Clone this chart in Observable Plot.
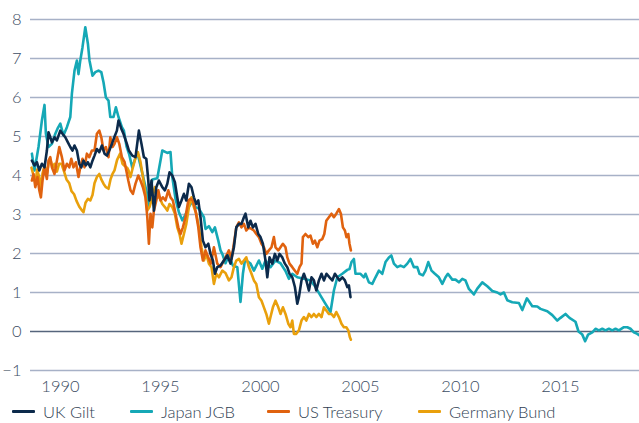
<!DOCTYPE html>
<html>
<head>
<meta charset="utf-8">
<script src="https://cdn.jsdelivr.net/npm/d3@7"></script>
<script src="https://cdn.jsdelivr.net/npm/@observablehq/plot@0.6"></script>
<style>
  html, body { margin: 0; padding: 0; background: #ffffff; }
  #wrap { width: 639px; height: 423px; position: relative; font-family: Lato, "Open Sans", sans-serif; }
  #legend { position: relative; width: 639px; height: 23px; font-size: 16.5px; font-weight: 300; color: #2f3e52; }
  .item { position: absolute; top: 0; height: 23px; display: flex; align-items: center; }
  .swatch { width: 23px; height: 3px; margin-right: 8px; border-radius: 1px; }
  #chart text { font-weight: 300; }
</style>
</head>
<body>
<div id="wrap">
  <div id="chart"></div>
  <div id="legend"></div>
</div>
<script>
// ---- Data (decimal year, yield %) ----
const seriesNames = ["UK Gilt", "Japan JGB", "US Treasury", "Germany Bund"];
const seriesColors = ["#0c2a4b", "#15a8b6", "#e0620f", "#e9a00c"];
const xTicks = [1990, 1995, 2000, 2005, 2010, 2015];
const yTicks = [-1, 0, 1, 2, 3, 4, 5, 6, 7, 8];

const ukGilt = [
  [1988.57,4.38],[1988.70,4.26],[1988.82,4.34],[1988.94,4.13],[1989.07,4.30],[1989.20,4.21],[1989.32,4.64],[1989.40,5.11],
  [1989.49,4.98],[1989.57,4.85],[1989.70,4.98],[1989.82,4.90],[1989.99,5.15],[1990.10,5.07],[1990.24,4.98],[1990.37,4.85],
  [1990.49,4.73],[1990.60,4.64],[1990.70,4.77],[1990.82,4.64],[1990.94,4.30],[1991.04,4.21],[1991.15,4.38],[1991.27,4.26],
  [1991.37,4.34],[1991.49,4.21],[1991.60,4.38],[1991.70,4.51],[1991.82,4.68],[1991.94,4.60],[1992.07,4.77],[1992.20,4.56],
  [1992.32,4.51],[1992.44,4.64],[1992.57,4.81],[1992.69,4.98],[1992.82,5.15],[1992.90,5.41],[1993.04,5.20],[1993.15,5.07],
  [1993.32,4.81],[1993.42,4.64],[1993.59,4.51],[1993.75,4.47],[1993.92,5.15],[1994.05,4.81],[1994.17,4.47],[1994.29,4.43],
  [1994.39,3.87],[1994.45,3.36],[1994.55,3.87],[1994.67,3.10],[1994.79,3.70],[1994.92,3.87],[1995.09,3.70],[1995.22,3.62],
  [1995.34,3.79],[1995.45,4.08],[1995.59,4.00],[1995.72,3.83],[1995.84,3.44],[1995.92,3.19],[1996.05,3.36],[1996.17,3.53],
  [1996.29,3.36],[1996.42,3.79],[1996.55,3.70],[1996.67,3.44],[1996.79,3.27],[1996.89,3.36],[1997.00,2.93],[1997.12,2.33],
  [1997.25,2.16],[1997.39,2.25],[1997.50,1.99],[1997.62,1.82],[1997.72,1.48],[1997.84,1.65],[1998.00,1.69],[1998.17,1.82],
  [1998.34,1.95],[1998.50,1.74],[1998.67,2.16],[1998.79,2.67],[1998.92,2.76],[1999.05,2.76],[1999.17,2.93],[1999.25,3.02],
  [1999.39,2.67],[1999.50,2.84],[1999.62,2.67],[1999.75,2.76],[1999.89,2.50],[2000.00,2.42],[2000.12,2.25],[2000.25,1.82],
  [2000.34,1.39],[2000.45,1.90],[2000.59,1.74],[2000.72,1.99],[2000.84,1.82],[2000.95,1.99],[2001.09,1.90],[2001.22,1.74],
  [2001.34,1.65],[2001.45,1.48],[2001.59,1.39],[2001.72,1.14],[2001.84,0.71],[2001.92,0.88],[2002.05,1.31],[2002.17,1.48],
  [2002.29,1.31],[2002.42,1.05],[2002.55,1.39],[2002.67,1.31],[2002.79,1.05],[2002.92,1.31],[2003.05,1.48],[2003.17,1.31],
  [2003.30,1.48],[2003.45,1.39],[2003.59,1.31],[2003.72,1.48],[2003.84,1.39],[2003.95,1.31],[2004.09,1.39],[2004.22,1.31],
  [2004.34,1.14],[2004.42,1.18],[2004.50,0.88]
];

const japanJGB = [
  [1988.57,4.56],[1988.70,4.13],[1988.90,4.73],[1989.07,5.41],[1989.20,5.81],[1989.27,5.07],[1989.40,4.73],[1989.57,4.81],
  [1989.74,5.07],[1989.85,5.20],[1989.99,5.33],[1990.15,5.03],[1990.32,5.24],[1990.49,5.50],[1990.57,6.10],[1990.70,6.69],
  [1990.82,6.95],[1990.90,6.60],[1990.99,6.95],[1991.10,7.29],[1991.24,7.80],[1991.37,7.38],[1991.45,6.95],[1991.60,6.56],
  [1991.74,6.65],[1991.90,6.69],[1992.04,6.65],[1992.15,6.39],[1992.27,6.00],[1992.40,5.92],[1992.49,5.50],[1992.65,5.50],
  [1992.77,5.75],[1992.90,5.50],[1993.07,5.24],[1993.17,5.15],[1993.30,4.75],[1993.43,4.55],[1993.59,4.20],[1993.84,4.60],
  [1994.09,4.06],[1994.34,3.50],[1994.42,3.20],[1994.59,3.90],[1994.84,3.93],[1995.09,4.64],[1995.34,4.58],[1995.50,4.60],
  [1995.59,3.96],[1995.75,3.40],[1995.92,3.06],[1996.09,2.85],[1996.25,3.00],[1996.42,3.20],[1996.59,3.34],[1996.75,3.19],
  [1996.92,3.15],[1997.17,2.93],[1997.25,2.63],[1997.42,2.70],[1997.59,2.55],[1997.72,2.67],[1997.89,2.33],[1998.00,2.08],
  [1998.09,1.99],[1998.25,1.75],[1998.42,1.95],[1998.62,1.69],[1998.84,1.65],[1999.00,0.76],[1999.12,1.48],[1999.22,1.82],
  [1999.34,1.80],[1999.50,1.74],[1999.67,1.56],[1999.92,1.82],[2000.09,1.61],[2000.25,1.82],[2000.50,1.65],[2000.75,1.82],
  [2001.00,1.75],[2001.25,1.55],[2001.42,1.35],[2001.59,1.48],[2001.84,1.39],[2002.17,1.35],[2002.50,1.31],[2002.75,1.14],
  [2003.00,0.92],[2003.25,0.71],[2003.50,0.50],[2003.67,1.05],[2003.84,1.39],[2004.09,1.48],[2004.34,1.58],[2004.45,1.60],
  [2004.55,1.78],[2004.67,1.86],[2004.75,1.48],[2005.00,1.48],[2005.17,1.39],[2005.25,1.48],[2005.42,1.26],[2005.59,1.22],
  [2005.75,1.39],[2005.92,1.56],[2006.09,1.48],[2006.25,1.78],[2006.42,1.90],[2006.54,1.95],[2006.67,1.74],[2006.84,1.65],
  [2007.00,1.69],[2007.17,1.65],[2007.34,1.74],[2007.50,1.86],[2007.67,1.65],[2007.84,1.65],[2007.95,1.48],[2008.12,1.44],
  [2008.25,1.56],[2008.39,1.78],[2008.55,1.56],[2008.72,1.48],[2008.92,1.39],[2009.09,1.22],[2009.25,1.39],[2009.37,1.48],
  [2009.59,1.33],[2009.75,1.33],[2009.92,1.26],[2010.09,1.35],[2010.25,1.31],[2010.42,1.09],[2010.67,0.95],[2010.84,1.10],
  [2011.09,1.26],[2011.34,1.16],[2011.59,1.04],[2011.84,1.00],[2012.00,0.95],[2012.17,1.00],[2012.34,0.80],[2012.59,0.75],
  [2012.92,0.73],[2013.09,0.55],[2013.32,0.85],[2013.59,0.65],[2013.84,0.64],[2014.00,0.58],[2014.34,0.52],[2014.59,0.42],
  [2014.84,0.28],[2015.00,0.35],[2015.25,0.45],[2015.45,0.35],[2015.75,0.25],[2015.90,0.00],[2016.09,-0.08],[2016.23,-0.25],
  [2016.38,-0.08],[2016.59,-0.02],[2016.75,0.07],[2016.92,0.03],[2017.09,0.07],[2017.25,0.03],[2017.42,0.07],[2017.59,0.03],
  [2017.75,0.07],[2017.92,0.03],[2018.17,0.11],[2018.34,0.11],[2018.50,0.07],[2018.67,-0.02],[2018.84,-0.06],[2018.95,-0.10]
];

const usTreasury = [
  [1988.57,3.87],[1988.65,4.04],[1988.74,3.70],[1988.85,3.96],[1988.94,3.62],[1989.02,3.44],[1989.10,3.87],[1989.20,4.21],
  [1989.32,3.91],[1989.40,4.38],[1989.49,4.47],[1989.57,4.21],[1989.70,4.04],[1989.82,4.38],[1989.94,4.73],[1990.07,4.47],
  [1990.20,4.13],[1990.32,4.30],[1990.44,4.21],[1990.54,4.43],[1990.65,4.21],[1990.77,4.34],[1990.90,3.96],[1990.99,4.21],
  [1991.10,4.43],[1991.20,4.21],[1991.32,4.56],[1991.44,4.47],[1991.57,4.64],[1991.70,4.64],[1991.82,5.07],[1991.94,5.15],
  [1992.04,4.98],[1992.15,4.64],[1992.27,4.73],[1992.40,4.47],[1992.49,4.98],[1992.60,4.73],[1992.70,4.81],[1992.82,4.98],
  [1992.94,4.81],[1993.07,4.47],[1993.20,4.35],[1993.30,4.10],[1993.39,3.87],[1993.50,3.62],[1993.62,3.53],[1993.75,3.79],
  [1993.89,4.00],[1994.00,3.87],[1994.12,3.70],[1994.25,3.44],[1994.34,2.93],[1994.42,2.25],[1994.50,3.02],[1994.59,2.67],
  [1994.67,3.10],[1994.79,3.36],[1994.89,3.62],[1995.00,3.36],[1995.12,3.44],[1995.25,3.36],[1995.39,3.62],[1995.50,3.44],
  [1995.62,3.36],[1995.75,3.02],[1995.89,2.67],[1996.00,2.50],[1996.12,2.67],[1996.25,2.93],[1996.39,3.36],[1996.50,3.40],
  [1996.62,3.36],[1996.75,3.10],[1996.89,2.67],[1997.00,2.16],[1997.12,1.82],[1997.25,2.08],[1997.39,1.90],[1997.52,1.74],
  [1997.67,2.16],[1997.84,1.74],[1998.00,1.65],[1998.17,1.82],[1998.25,1.90],[1998.42,2.08],[1998.55,1.86],[1998.67,2.25],
  [1998.79,2.67],[1998.92,2.80],[1999.05,2.67],[1999.17,2.76],[1999.29,2.59],[1999.42,2.67],[1999.55,2.63],[1999.67,2.59],
  [1999.79,2.50],[1999.92,2.42],[2000.05,2.25],[2000.17,2.16],[2000.29,1.99],[2000.42,2.08],[2000.55,2.16],[2000.67,2.42],
  [2000.75,2.16],[2000.89,2.08],[2001.00,2.16],[2001.12,2.25],[2001.25,2.16],[2001.34,1.90],[2001.45,1.74],[2001.59,1.65],
  [2001.72,1.56],[2001.84,1.48],[2001.95,1.65],[2002.05,1.74],[2002.12,2.42],[2002.25,2.50],[2002.39,2.42],[2002.50,2.46],
  [2002.62,2.25],[2002.72,2.33],[2002.84,2.16],[2002.95,2.33],[2003.09,2.37],[2003.19,2.50],[2003.29,2.84],[2003.42,2.93],
  [2003.55,3.02],[2003.67,2.93],[2003.79,3.02],[2003.92,3.14],[2004.02,3.02],[2004.12,2.67],[2004.22,2.59],[2004.30,2.42],
  [2004.39,2.50],[2004.45,2.25],[2004.52,2.08]
];

const germanyBund = [
  [1988.55,4.20],[1988.65,4.00],[1988.75,3.80],[1988.83,4.15],[1988.94,3.95],[1989.03,3.65],[1989.10,4.05],[1989.20,4.25],
  [1989.32,4.05],[1989.40,4.30],[1989.50,4.40],[1989.60,4.20],[1989.70,4.30],[1989.82,4.10],[1989.93,4.30],[1990.05,4.30],
  [1990.18,4.10],[1990.30,3.90],[1990.44,3.80],[1990.55,3.60],[1990.68,3.52],[1990.80,3.35],[1990.94,3.20],[1991.05,3.12],
  [1991.15,3.06],[1991.25,3.30],[1991.37,3.40],[1991.49,3.36],[1991.60,3.50],[1991.70,3.80],[1991.82,3.96],[1991.94,4.04],
  [1992.04,3.90],[1992.15,3.79],[1992.27,3.70],[1992.40,3.66],[1992.50,3.90],[1992.60,4.04],[1992.70,4.13],[1992.83,4.40],
  [1992.98,4.56],[1993.10,4.30],[1993.20,4.25],[1993.33,4.20],[1993.40,4.13],[1993.50,3.96],[1993.62,4.21],[1993.75,4.45],
  [1993.87,4.60],[1994.00,4.35],[1994.12,3.96],[1994.22,3.62],[1994.34,3.10],[1994.45,3.19],[1994.59,3.44],[1994.72,3.70],
  [1994.84,3.44],[1994.95,3.44],[1995.09,3.27],[1995.22,3.19],[1995.34,3.10],[1995.45,3.27],[1995.59,3.19],[1995.72,3.02],
  [1995.84,2.67],[1995.95,2.50],[1996.05,2.25],[1996.17,2.50],[1996.29,2.76],[1996.42,3.19],[1996.55,3.44],[1996.67,3.19],
  [1996.79,3.02],[1996.92,2.67],[1997.05,2.16],[1997.17,1.82],[1997.29,1.99],[1997.42,1.74],[1997.55,1.65],[1997.67,1.22],
  [1997.79,1.48],[1997.92,1.39],[1998.09,1.56],[1998.25,1.50],[1998.42,1.31],[1998.55,1.39],[1998.67,1.65],[1998.79,1.82],
  [1998.92,1.86],[1999.05,1.74],[1999.17,1.82],[1999.29,1.90],[1999.42,1.65],[1999.55,1.48],[1999.67,1.31],[1999.79,1.22],
  [1999.92,0.88],[2000.05,0.79],[2000.17,0.62],[2000.29,0.45],[2000.42,0.20],[2000.50,0.37],[2000.62,0.62],[2000.75,0.79],
  [2000.89,0.62],[2001.00,0.45],[2001.12,0.62],[2001.25,0.45],[2001.39,0.20],[2001.50,0.11],[2001.59,0.28],[2001.67,-0.06],
  [2001.79,-0.06],[2001.92,0.03],[2002.05,0.28],[2002.17,0.37],[2002.29,0.28],[2002.42,0.45],[2002.55,0.37],[2002.67,0.45],
  [2002.79,0.37],[2002.92,0.45],[2003.05,0.37],[2003.17,0.62],[2003.29,0.54],[2003.42,0.45],[2003.55,0.45],[2003.67,0.37],
  [2003.79,0.50],[2003.92,0.37],[2004.05,0.20],[2004.17,0.11],[2004.29,0.11],[2004.39,0.03],[2004.47,-0.15],[2004.52,-0.21]
];

const seriesData = [ukGilt, japanJGB, usTreasury, germanyBund];

// ---- Chart ----
const textColor = "#3d4d63";
const drawOrder = [1, 3, 2, 0]; // Japan, Germany, US, UK (UK on top)

const chart = Plot.plot({
  width: 639,
  height: 400,
  marginLeft: 30,
  marginRight: 0,
  marginTop: 19,
  marginBottom: 30,
  style: { fontFamily: "Lato, 'Open Sans', sans-serif", fontSize: "16.5px", color: textColor, background: "#ffffff", overflow: "visible" },
  x: { domain: [1988.5, 2018.95], ticks: xTicks, tickFormat: d => String(d), tickSize: 0, tickPadding: 10, label: null },
  y: { domain: [-1, 8], ticks: yTicks, tickSize: 0, tickPadding: 9, label: null },
  marks: [
    Plot.ruleY(yTicks.filter(d => d !== 0), { stroke: "#a7b1c7", strokeWidth: 1.7 }),
    Plot.ruleY([0], { stroke: "#56657c", strokeWidth: 1.7 }),
    ...drawOrder.map(i =>
      Plot.line(seriesData[i], {
        x: d => d[0],
        y: d => d[1],
        stroke: seriesColors[i],
        strokeWidth: 2.6,
        strokeLinejoin: "round",
        strokeLinecap: "round"
      })
    )
  ]
});
document.getElementById("chart").appendChild(chart);

// ---- Legend ----
const legendLeft = [12, 130, 267, 418];
const legend = document.getElementById("legend");
seriesNames.forEach((name, i) => {
  const item = document.createElement("div");
  item.className = "item";
  item.style.left = legendLeft[i] + "px";
  const sw = document.createElement("div");
  sw.className = "swatch";
  sw.style.background = seriesColors[i];
  const lab = document.createElement("span");
  lab.textContent = name;
  item.appendChild(sw);
  item.appendChild(lab);
  legend.appendChild(item);
});
</script>
</body>
</html>
